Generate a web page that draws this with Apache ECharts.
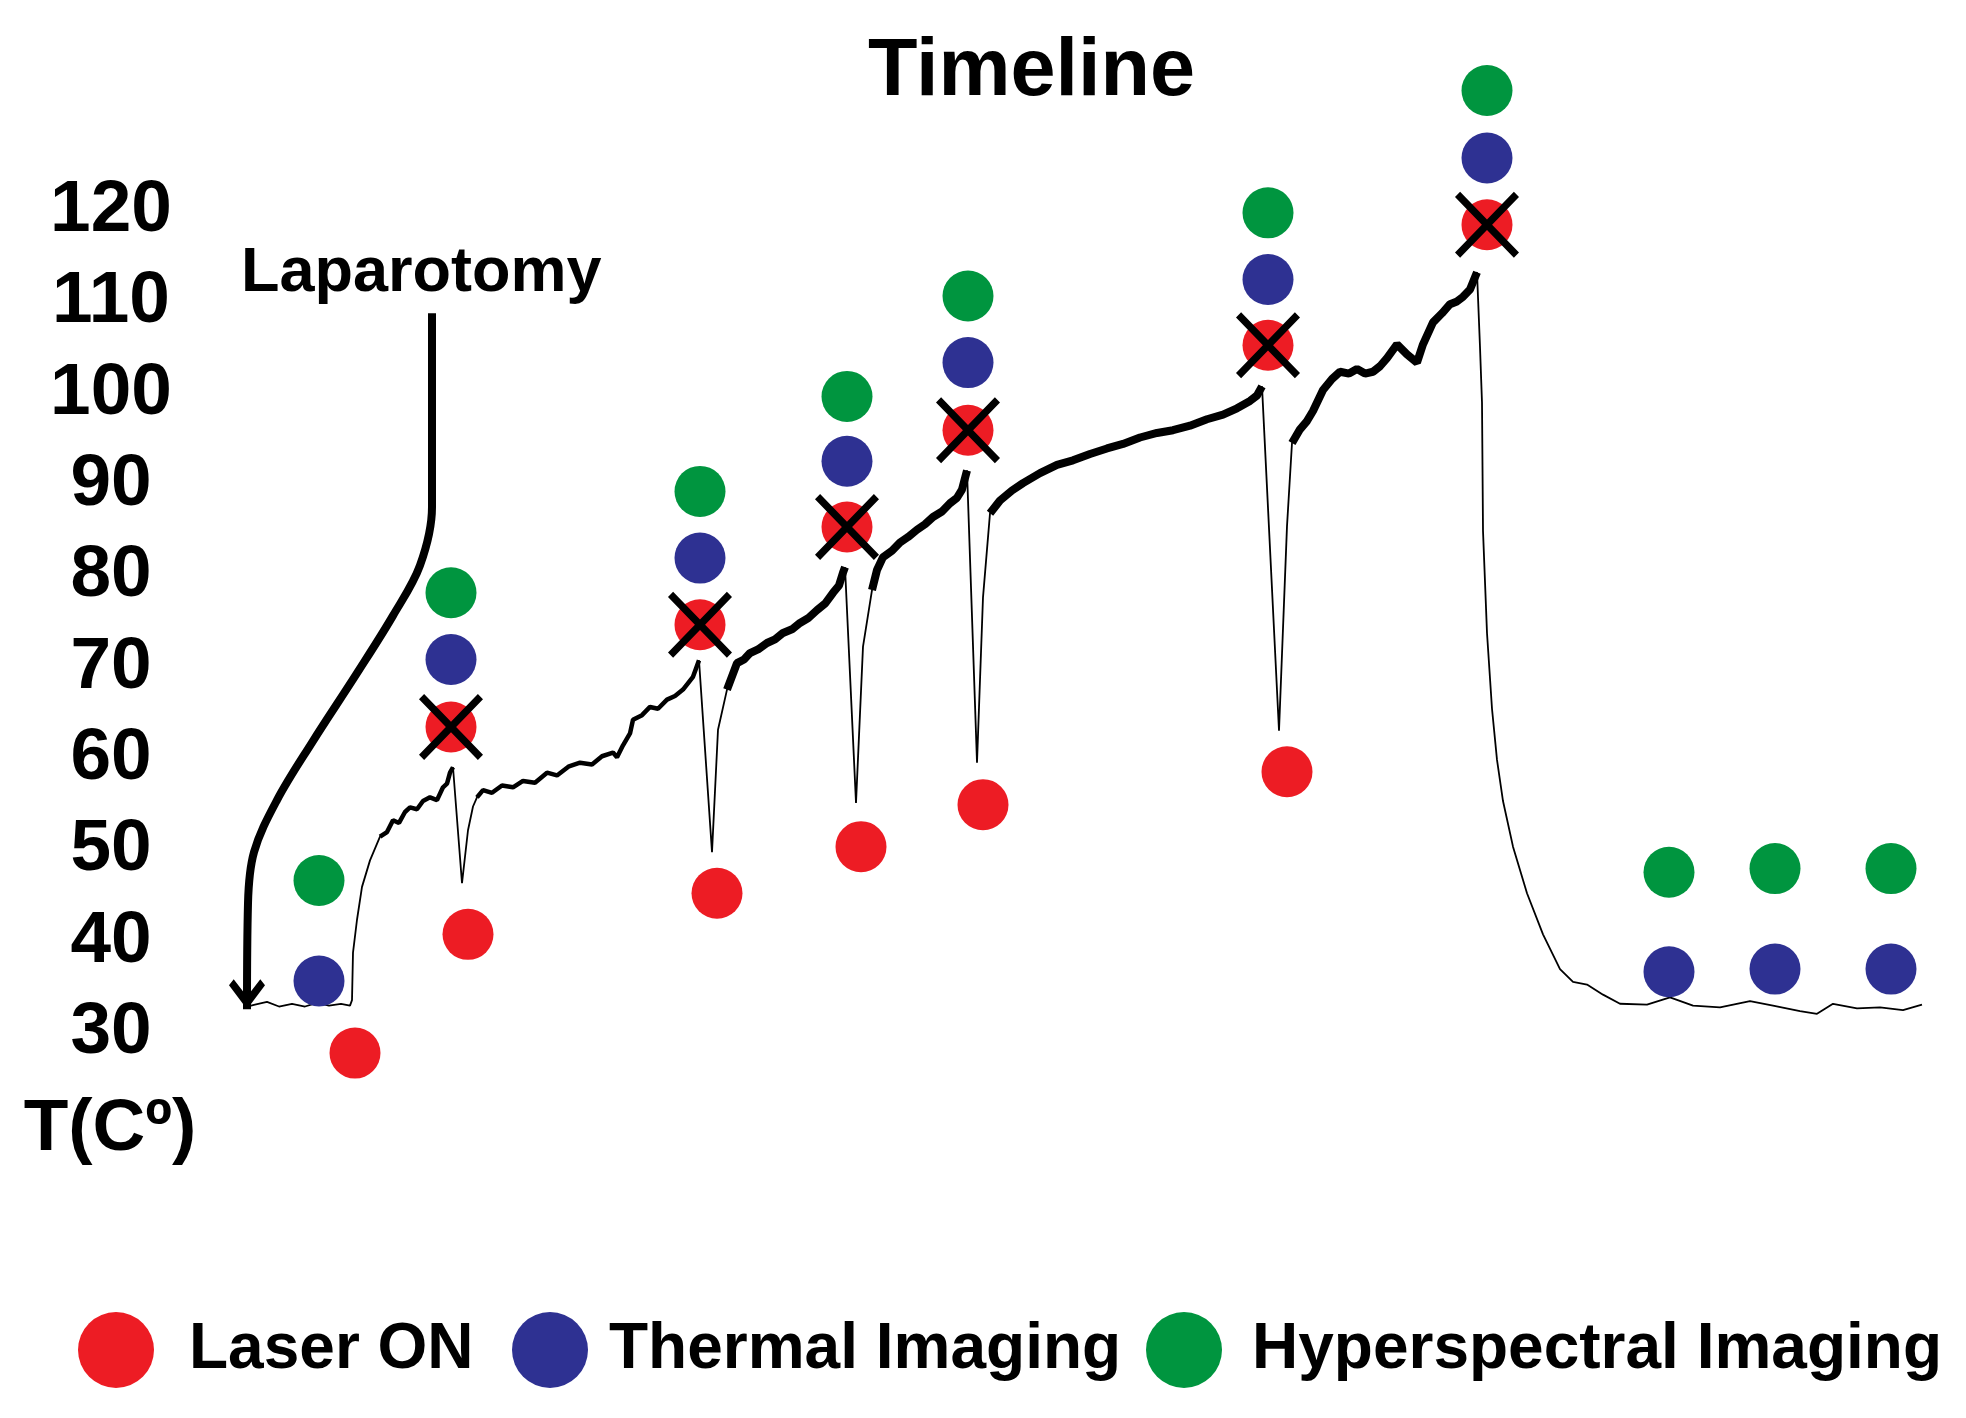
<!DOCTYPE html>
<html>
<head>
<meta charset="utf-8">
<title>Timeline</title>
<script src="https://cdn.jsdelivr.net/npm/echarts@6/dist/echarts.min.js"></script>
<style>
  html, body { margin: 0; padding: 0; background: #fff; }
  #main { width: 1966px; height: 1418px; }
</style>
</head>
<body>
<div id="main"></div>
<script>
// temperature recording: time (s) and T (C)
var traceTime = [0, 8, 20, 32, 45, 58, 70, 82, 94, 103,
  105, 106, 110, 115, 123, 133, 140, 146, 152, 158, 163, 170, 176, 183, 190, 196, 200, 203, 206,
  215,
  221, 226, 230, 236, 245, 255, 266, 276, 288, 300, 310, 322, 333, 345, 355, 366, 370, 376, 383, 386, 395, 403, 411, 420, 428, 436, 446, 452,
  465,
  471, 480, 490, 497, 503, 511, 520, 528, 536, 545, 553, 561, 570, 578, 586, 592, 596, 598,
  609,
  616, 625, 630, 636, 645, 653, 661, 670, 678, 686, 695, 703, 710, 715, 720,
  730,
  736, 743, 753, 765, 776, 793, 810, 826, 843, 860, 876, 893, 910, 926, 943, 960, 976, 990, 1003, 1010, 1015,
  1032,
  1040, 1045, 1053, 1060, 1066, 1076, 1085, 1093, 1102, 1110, 1118, 1126, 1133, 1140, 1150, 1160, 1170, 1176, 1186, 1195, 1203, 1210, 1216, 1223, 1230,
  1233, 1235, 1236, 1240, 1245, 1250, 1256, 1266, 1280, 1296, 1313, 1326, 1340, 1356, 1373, 1400, 1423, 1446, 1473, 1503, 1526, 1553, 1570, 1586, 1610, 1633, 1656, 1675];
var traceTemp = [32.9, 33.1, 33.4, 32.9, 33.2, 32.9, 33.3, 33.0, 33.2, 33.0,
  33.6, 38.8, 42.4, 46.0, 48.9, 51.5, 52.0, 53.3, 53.0, 54.2, 54.7, 54.5, 55.4, 55.8, 55.5, 56.9, 57.3, 58.5, 59.1,
  46.4,
  52.2, 54.8, 55.8, 56.6, 56.3, 57.1, 56.9, 57.6, 57.4, 58.5, 58.2, 59.2, 59.6, 59.4, 60.3, 60.7, 60.2, 61.5, 62.8, 64.3, 64.8, 65.7, 65.5, 66.5, 66.9, 67.6, 69.0, 70.8,
  49.8,
  63.2, 67.6, 70.5, 70.9, 71.6, 72.0, 72.7, 73.1, 73.8, 74.2, 74.9, 75.4, 76.3, 77.0, 78.2, 79.0, 80.4, 81.0,
  55.2,
  72.3, 78.5, 80.7, 82.1, 82.8, 83.7, 84.3, 85.1, 85.7, 86.5, 87.1, 88.0, 88.6, 89.5, 91.6,
  59.6,
  77.7, 86.9, 88.3, 89.4, 90.2, 91.3, 92.2, 92.7, 93.4, 94.0, 94.5, 95.2, 95.7, 96.0, 96.5, 97.2, 97.7, 98.4, 99.2, 99.8, 100.8,
  63.1,
  85.5, 94.6, 96.1, 97.0, 98.1, 100.4, 101.6, 102.4, 102.2, 102.7, 102.2, 102.4, 103.0, 103.9, 105.4, 104.3, 103.4, 105.4, 107.8, 108.8, 109.8, 110.1, 110.6, 111.4, 113.3,
  105.1, 99.0, 85.0, 73.8, 65.5, 59.9, 55.4, 50.4, 45.3, 40.8, 37.0, 35.6, 35.3, 34.2, 33.2, 33.1, 33.9, 33.0, 32.8, 33.5, 33.0, 32.4, 32.1, 33.2, 32.7, 32.8, 32.5, 33.1];

// stretches where the probe signal is noisy (drawn as a thicker trace)
var lightNoise = [[125, 206], [230, 452]];
var heavyNoise = [[480, 598], [625, 720], [743, 1015], [1045, 1230]];

// events: [time, position on the temperature scale]
var laserOn = [[108, 27.8], [204, 63.5], [221, 40.8], [453, 74.7], [470, 45.3], [600, 85.4], [614, 50.4],
  [721, 96.0], [736, 55.0], [1021, 105.3], [1040, 58.6], [1240, 118.5]];
var laserOff = [[204, 63.5], [453, 74.7], [600, 85.4], [721, 96.0], [1021, 105.3], [1240, 118.5]];
var thermal = [[72, 35.7], [204, 70.9], [453, 82.0], [600, 92.6], [721, 103.4], [1021, 112.5], [1240, 125.8],
  [1422, 36.7], [1528, 37.0], [1644, 37.0]];
var hyper = [[72, 46.7], [204, 78.2], [453, 89.3], [600, 99.7], [721, 110.7], [1021, 119.8], [1240, 133.2],
  [1422, 47.6], [1528, 48.0], [1644, 48.0]];

// laparotomy pointer
var arrowTime = [185, 185, 173, 146, 110, 65, 30, 7, 1, 0];
var arrowTemp = [108.8, 87.6, 81.2, 75.7, 69.4, 61.8, 55.5, 49.8, 44.2, 32.6];

var yMin = 30, yMax = 120, yStep = 10;
var tMax = 1675;

var FONT = '"Liberation Sans", Arial, Helvetica, sans-serif';
var RED = '#ED1C24', BLUE = '#2E3192', GREEN = '#00953F';
var CROSS = 'path://M0,8 L8,0 L50,42 L92,0 L100,8 L58,50 L100,92 L92,100 L50,58 L8,100 L0,92 L42,50 Z';
var CHEVRON = 'path://M0,20 L13,6 L50,46 L87,6 L100,20 L50,76 Z';

var inRanges = function (t, ranges) {
    return ranges.some(function (r) { return t >= r[0] && t <= r[1]; });
};

var timeline = function () {
    var trace = traceTime.map(function (t, i) { return [t, traceTemp[i]]; });
    var light = trace.map(function (p) { return inRanges(p[0], lightNoise) ? p : [p[0], '-']; });
    var heavy = trace.map(function (p) { return inRanges(p[0], heavyNoise) ? p : [p[0], '-']; });
    var arrow = arrowTime.map(function (t, i) { return [t, arrowTemp[i]]; });
    var arrowTip = [arrow[arrow.length - 1]];

    var legendBase = function (name, left, gap) {
        return {
            data: [name], left: left, top: 1312, padding: 0,
            itemWidth: 76, itemHeight: 76, icon: 'circle', selectedMode: false,
            textStyle: { fontSize: 64, fontWeight: 'bold', color: '#000', fontFamily: FONT, padding: [0, 0, 0, gap] }
        };
    };

    var myChart = echarts.init(document.getElementById('main'));
    var option = {
        animation: false,
        backgroundColor: '#fff',
        title: [
            { text: 'Timeline', left: 868, top: 32, padding: 0,
              textStyle: { fontSize: 81, fontWeight: 'bold', color: '#000', fontFamily: FONT } },
            { text: 'Laparotomy', left: 241, top: 242, padding: 0,
              textStyle: { fontSize: 63, fontWeight: 'bold', color: '#000', fontFamily: FONT } }
        ],
        legend: [
            legendBase('Laser ON', 78, 30),
            legendBase('Thermal Imaging', 512, 16),
            legendBase('Hyperspectral Imaging', 1146, 25)
        ],
        grid: { left: 247, right: 44, top: 211, bottom: 385 },
        xAxis: { type: 'value', min: 0, max: tMax, show: false },
        yAxis: {
            type: 'value', min: yMin, max: yMax, interval: yStep,
            name: 'T(Cº)', nameLocation: 'start', nameGap: 60,
            nameTextStyle: { fontSize: 73, fontWeight: 'bold', color: '#000', fontFamily: FONT,
                             align: 'center', padding: [0, 274, 0, 0] },
            axisLine: { show: false }, axisTick: { show: false }, splitLine: { show: false },
            axisLabel: { fontSize: 73, fontWeight: 'bold', color: '#000', fontFamily: FONT,
                         align: 'center', margin: 136, padding: [16, 0, 0, 0] }
        },
        series: [
            { name: 'Temperature', type: 'line', data: trace, showSymbol: false, z: 2,
              lineStyle: { color: '#000', width: 1.8 } },
            { name: 'Noise light', type: 'line', data: light, showSymbol: false, z: 2,
              lineStyle: { color: '#000', width: 4.5 } },
            { name: 'Noise heavy', type: 'line', data: heavy, showSymbol: false, z: 2,
              lineStyle: { color: '#000', width: 8 } },
            { name: 'Laparotomy', type: 'line', data: arrow, smooth: 0.35, clip: false, z: 3,
              showSymbol: false, lineStyle: { color: '#000', width: 8 } },
            { name: 'Laparotomy tip', type: 'scatter', data: arrowTip, symbol: CHEVRON,
              symbolSize: [36, 30], symbolOffset: [0, -15], clip: false, z: 3,
              itemStyle: { color: '#000', opacity: 1 } },
            { name: 'Laser ON', type: 'scatter', data: laserOn, symbolSize: 51, clip: false, z: 5,
              itemStyle: { color: RED, opacity: 1 } },
            { name: 'Thermal Imaging', type: 'scatter', data: thermal, symbolSize: 51, clip: false, z: 5,
              itemStyle: { color: BLUE, opacity: 1 } },
            { name: 'Hyperspectral Imaging', type: 'scatter', data: hyper, symbolSize: 51, clip: false, z: 5,
              itemStyle: { color: GREEN, opacity: 1 } },
            { name: 'Laser OFF', type: 'scatter', data: laserOff, symbol: CROSS, symbolSize: [64, 66],
              clip: false, z: 6, itemStyle: { color: '#000', opacity: 1 } }
        ]
    };
    myChart.setOption(option);
};

timeline();
</script>
</body>
</html>
